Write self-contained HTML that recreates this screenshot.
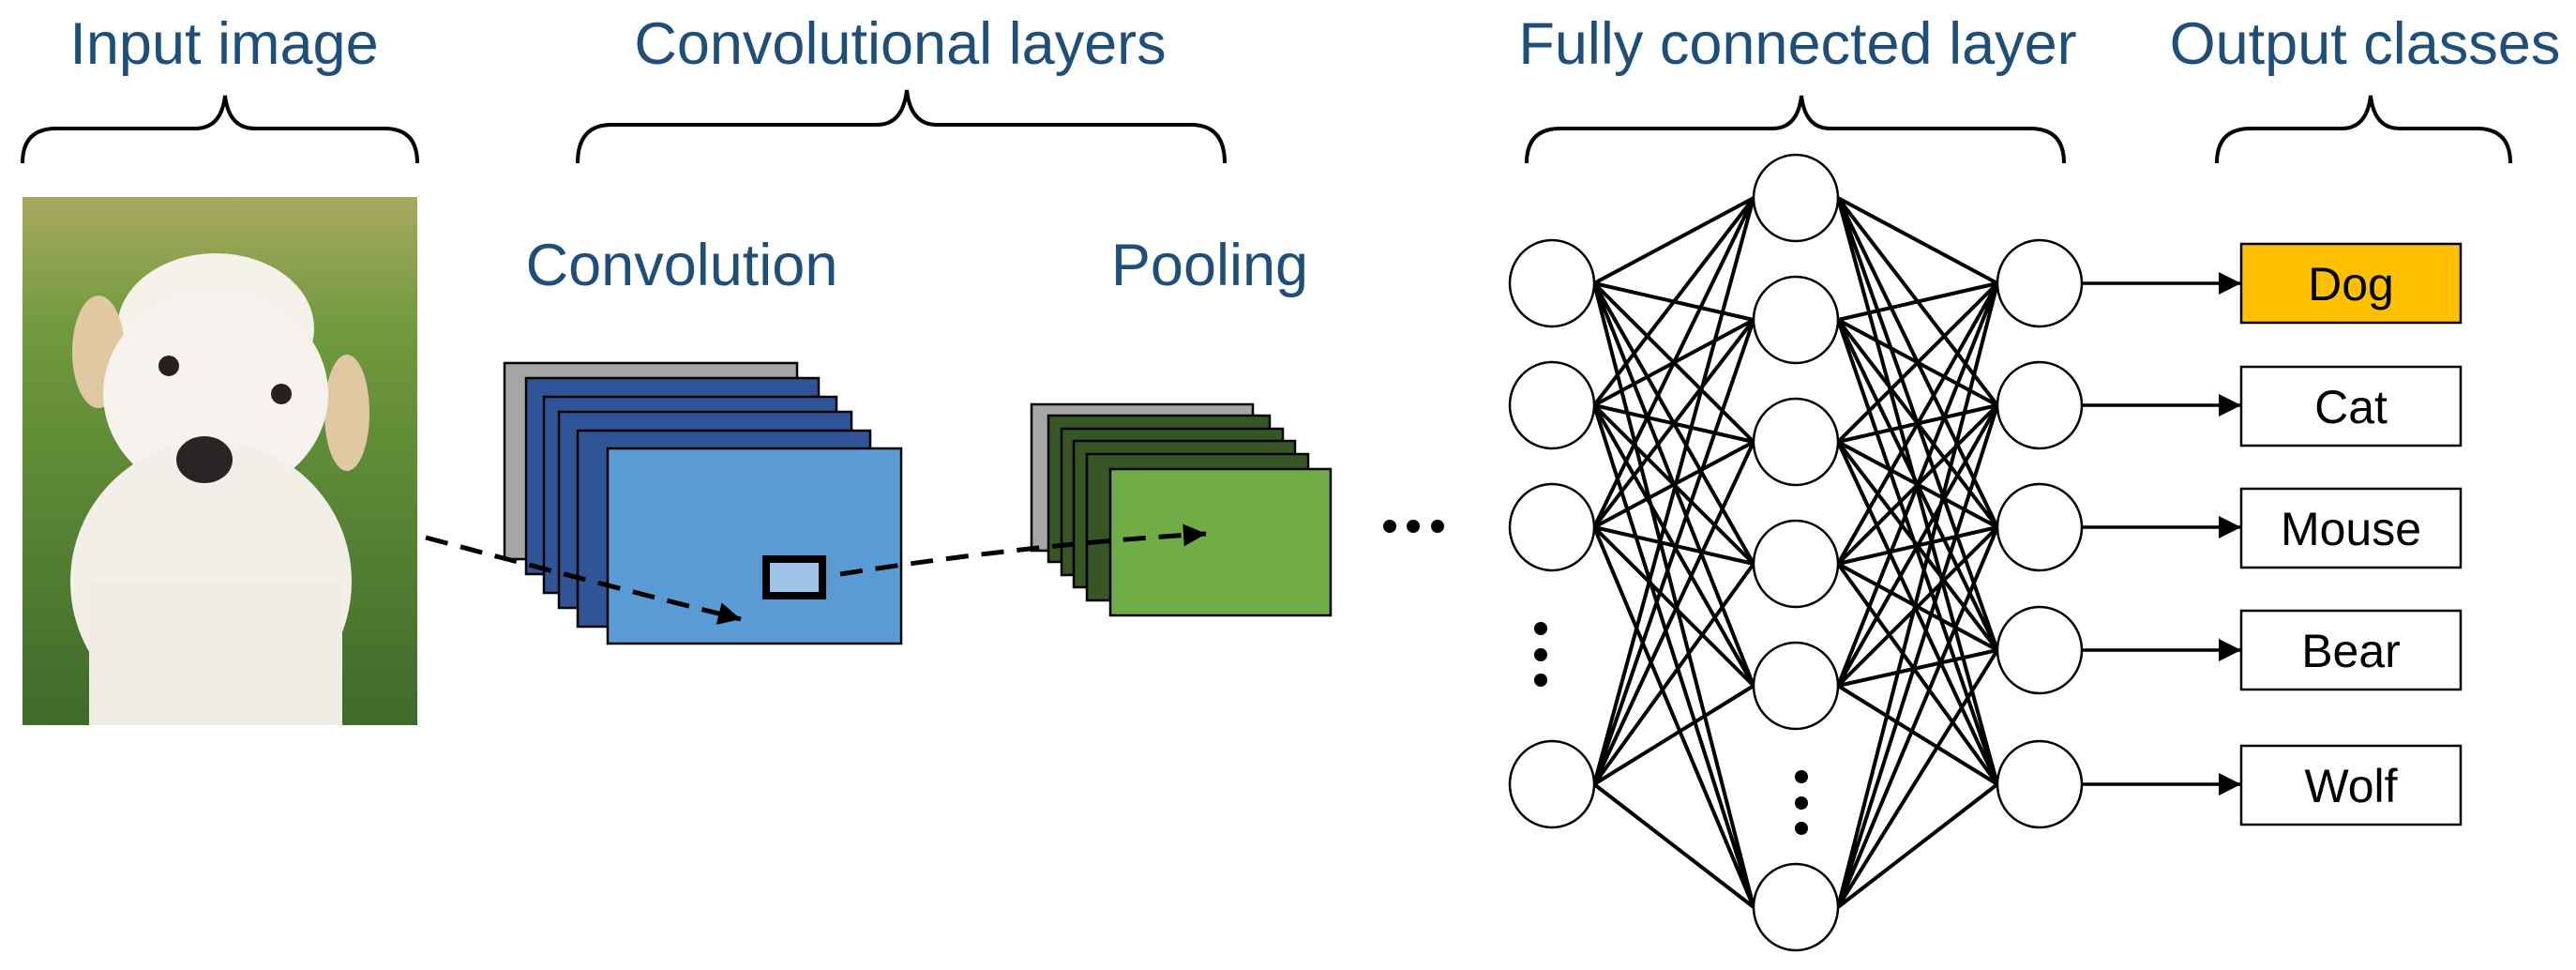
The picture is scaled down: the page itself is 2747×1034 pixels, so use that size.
<!DOCTYPE html>
<html><head><meta charset="utf-8"><style>
html,body{margin:0;padding:0;background:#fff;}
svg{display:block;}
text{font-family:"Liberation Sans",Arial,sans-serif;}
</style></head><body>
<svg width="2747" height="1034" viewBox="0 0 2747 1034" xmlns="http://www.w3.org/2000/svg">
<defs>
<linearGradient id="bg" x1="0" y1="0" x2="0" y2="1">
<stop offset="0" stop-color="#a8a860"/><stop offset="0.25" stop-color="#6f9a3c"/><stop offset="1" stop-color="#3f6a2a"/>
</linearGradient>
<marker id="ah2" viewBox="0 0 10 10" refX="10" refY="5" markerWidth="26" markerHeight="24" orient="auto" markerUnits="userSpaceOnUse">
<path d="M0,0 L10,5 L0,10 z" fill="#000"/></marker>
</defs>
<g fill="#1F4E79" font-size="63">
<text x="239" y="68" text-anchor="middle">Input image</text>
<text x="960" y="68" text-anchor="middle">Convolutional layers</text>
<text x="1917" y="68" text-anchor="middle">Fully connected layer</text>
<text x="2522" y="68" text-anchor="middle">Output classes</text>
<text x="727" y="304" text-anchor="middle">Convolution</text>
<text x="1290" y="304" text-anchor="middle">Pooling</text>
</g>
<g fill="none" stroke="#000" stroke-width="4">
<path d="M24,174 Q24,137 60,137 L208,137 Q236,137 240,102 Q244,137 272,137 L410,137 Q445,137 445,174"/>
<path d="M616,174 Q616,133 652,133 L935,133 Q963,133 967,96 Q971,133 999,133 L1270,133 Q1306,133 1306,174"/>
<path d="M1628,174 Q1628,137 1664,137 L1890,137 Q1917,137 1921,102 Q1925,137 1952,137 L2165,137 Q2201,137 2201,174"/>
<path d="M2364,174 Q2364,137 2400,137 L2497,137 Q2524,137 2528,102 Q2532,137 2559,137 L2641,137 Q2677,137 2677,174"/>
</g>
<rect x="24" y="210" width="421" height="563" fill="url(#bg)"/>
<ellipse cx="230" cy="350" rx="105" ry="80" fill="#f4f1ea"/>
<ellipse cx="105" cy="375" rx="28" ry="60" fill="#e0c9a2"/>
<ellipse cx="370" cy="440" rx="24" ry="62" fill="#e0c9a2"/>
<ellipse cx="230" cy="420" rx="120" ry="110" fill="#f6f3ee"/>
<ellipse cx="225" cy="620" rx="150" ry="150" fill="#f2efe9"/>
<rect x="95" y="620" width="270" height="153" fill="#efece6"/>
<circle cx="180" cy="390" r="11" fill="#2a2018"/>
<circle cx="300" cy="420" r="11" fill="#2a2018"/>
<ellipse cx="218" cy="490" rx="30" ry="25" fill="#2a2424"/>
<g stroke="#000" stroke-width="2.5">
<rect x="538" y="387" width="312" height="209" fill="#A5A5A5"/>
<rect x="561" y="403" width="312" height="209" fill="#2F5597"/>
<rect x="580" y="423" width="312" height="209" fill="#2F5597"/>
<rect x="596" y="439" width="312" height="209" fill="#2F5597"/>
<rect x="616" y="459" width="312" height="209" fill="#2F5597"/>
<rect x="648" y="478" width="313" height="208" fill="#5B9BD5"/>
<rect x="1100" y="431" width="236" height="156" fill="#A5A5A5"/>
<rect x="1118" y="443" width="236" height="156" fill="#375623"/>
<rect x="1132" y="457" width="236" height="156" fill="#375623"/>
<rect x="1145" y="470" width="236" height="156" fill="#375623"/>
<rect x="1159" y="484" width="236" height="156" fill="#375623"/>
<rect x="1184" y="500" width="235" height="156" fill="#70AD47"/>
</g>
<rect x="817" y="596" width="60" height="39" fill="#9DC3E6" stroke="#000" stroke-width="8"/>
<g fill="none" stroke="#000" stroke-width="5" stroke-dasharray="24,14">
<path d="M454,573 Q630,620 790,660" marker-end="url(#ah2)"/>
<path d="M896,612 Q1100,580 1286,569" marker-end="url(#ah2)"/>
</g>
<g fill="#000">
<circle cx="1482" cy="561" r="7"/><circle cx="1507" cy="561" r="7"/><circle cx="1533" cy="561" r="7"/>
<circle cx="1643" cy="670" r="7"/><circle cx="1643" cy="698" r="7"/><circle cx="1643" cy="725" r="7"/>
<circle cx="1921" cy="828" r="7"/><circle cx="1921" cy="856" r="7"/><circle cx="1921" cy="883" r="7"/>
</g>
<g stroke="#000" stroke-width="4" fill="none">
<path d="
M1700,302 L1870,211 M1700,302 L1870,341 M1700,302 L1870,471 M1700,302 L1870,601 M1700,302 L1870,731 M1700,302 L1870,967
M1700,432 L1870,211 M1700,432 L1870,341 M1700,432 L1870,471 M1700,432 L1870,601 M1700,432 L1870,731 M1700,432 L1870,967
M1700,562 L1870,211 M1700,562 L1870,341 M1700,562 L1870,471 M1700,562 L1870,601 M1700,562 L1870,731 M1700,562 L1870,967
M1700,836 L1870,211 M1700,836 L1870,341 M1700,836 L1870,471 M1700,836 L1870,601 M1700,836 L1870,731 M1700,836 L1870,967
M1960,211 L2130,302 M1960,211 L2130,432 M1960,211 L2130,562 M1960,211 L2130,693 M1960,211 L2130,836
M1960,341 L2130,302 M1960,341 L2130,432 M1960,341 L2130,562 M1960,341 L2130,693 M1960,341 L2130,836
M1960,471 L2130,302 M1960,471 L2130,432 M1960,471 L2130,562 M1960,471 L2130,693 M1960,471 L2130,836
M1960,601 L2130,302 M1960,601 L2130,432 M1960,601 L2130,562 M1960,601 L2130,693 M1960,601 L2130,836
M1960,731 L2130,302 M1960,731 L2130,432 M1960,731 L2130,562 M1960,731 L2130,693 M1960,731 L2130,836
M1960,967 L2130,302 M1960,967 L2130,432 M1960,967 L2130,562 M1960,967 L2130,693 M1960,967 L2130,836"/>
</g>
<g fill="#fff" stroke="#000" stroke-width="2.5">
<ellipse cx="1655" cy="302" rx="45" ry="46"/><ellipse cx="1655" cy="432" rx="45" ry="46"/><ellipse cx="1655" cy="562" rx="45" ry="46"/><ellipse cx="1655" cy="836" rx="45" ry="46"/>
<ellipse cx="1915" cy="211" rx="45" ry="46"/><ellipse cx="1915" cy="341" rx="45" ry="46"/><ellipse cx="1915" cy="471" rx="45" ry="46"/><ellipse cx="1915" cy="601" rx="45" ry="46"/><ellipse cx="1915" cy="731" rx="45" ry="46"/><ellipse cx="1915" cy="967" rx="45" ry="46"/>
<ellipse cx="2175" cy="302" rx="45" ry="46"/><ellipse cx="2175" cy="432" rx="45" ry="46"/><ellipse cx="2175" cy="562" rx="45" ry="46"/><ellipse cx="2175" cy="693" rx="45" ry="46"/><ellipse cx="2175" cy="836" rx="45" ry="46"/>
</g>
<g stroke="#000" stroke-width="3.5">
<line x1="2220" y1="302" x2="2390" y2="302" marker-end="url(#ah2)"/>
<line x1="2220" y1="432" x2="2390" y2="432" marker-end="url(#ah2)"/>
<line x1="2220" y1="562" x2="2390" y2="562" marker-end="url(#ah2)"/>
<line x1="2220" y1="693" x2="2390" y2="693" marker-end="url(#ah2)"/>
<line x1="2220" y1="836" x2="2390" y2="836" marker-end="url(#ah2)"/>
</g>
<g stroke="#000" stroke-width="2.5">
<rect x="2390" y="260" width="234" height="84" fill="#FFC000"/>
<rect x="2390" y="391" width="234" height="84" fill="#fff"/>
<rect x="2390" y="521" width="234" height="84" fill="#fff"/>
<rect x="2390" y="651" width="234" height="84" fill="#fff"/>
<rect x="2390" y="795" width="234" height="84" fill="#fff"/>
</g>
<g font-size="50" fill="#000" text-anchor="middle">
<text x="2507" y="320">Dog</text>
<text x="2507" y="451">Cat</text>
<text x="2507" y="581">Mouse</text>
<text x="2507" y="711">Bear</text>
<text x="2507" y="855">Wolf</text>
</g>
</svg>
</body></html>
